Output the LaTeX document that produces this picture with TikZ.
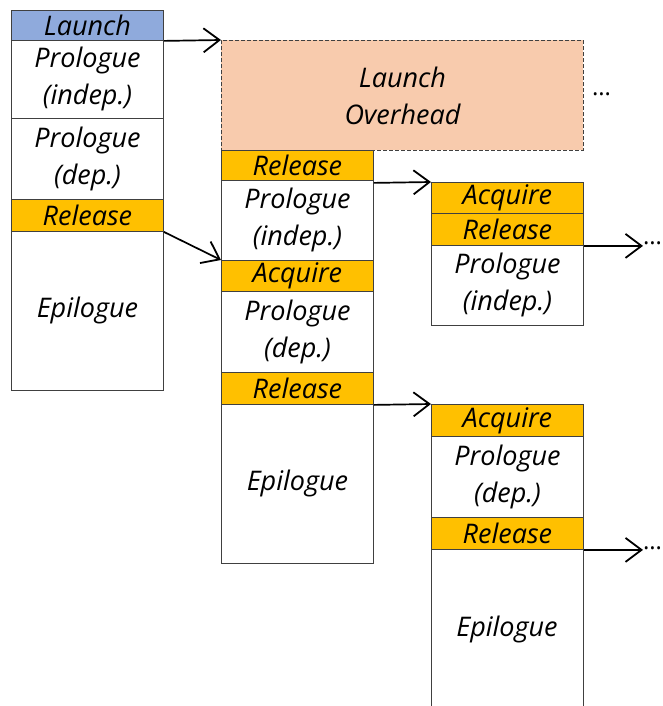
\documentclass[tikz,border=0pt]{standalone}
\usepackage{fontspec}
\setmainfont{Open Sans}
\usetikzlibrary{arrows.meta}
\definecolor{launchblue}{HTML}{8FAADC}
\definecolor{syncorange}{HTML}{FFC000}
\definecolor{overheadpeach}{HTML}{F8CBAD}
\definecolor{edgegray}{HTML}{404040}
\begin{document}
\begin{tikzpicture}[x=1pt,y=-1pt,
  font=\fontsize{27}{37}\selectfont\itshape,
  cell/.style={draw=edgegray, line width=0.9pt, fill=white, minimum width=152pt,
    inner sep=0pt, align=center, anchor=north west},
  sync/.style={cell, fill=syncorange},
  link/.style={line width=1.7pt, -{Straight Barb[length=16pt,width=24pt,line width=1.8pt]}},
  dots/.style={font=\fontsize{24}{24}\selectfont, inner sep=0pt, anchor=west}]
\clip (0,0) rectangle (662,706);
\fill[white] (0,0) rectangle (662,706);

% first column: launching kernel
\node[cell, fill=launchblue, minimum height=30pt] (a0) at (11,10) {Launch};
\node[cell, minimum height=78pt] (a1) at (11,40) {Prologue\\(indep.)};
\node[cell, minimum height=81pt] (a2) at (11,118) {Prologue\\(dep.)};
\node[sync, minimum height=32pt] (a3) at (11,199) {Release};
\node[cell, minimum height=159pt] (a4) at (11,231) {Epilogue};

% launch overhead
\node[draw=edgegray, dash pattern=on 4pt off 2pt, line width=0.9pt, fill=overheadpeach,
  minimum width=362pt, minimum height=110pt, inner sep=0pt, anchor=north west, align=center]
  (ov) at (221,40) {Launch\\Overhead};
\node[dots] (d0) at (592,94) {\dots};

% second column
\node[sync, minimum height=30pt] (b0) at (221,150) {Release};
\node[cell, minimum height=80pt] (b1) at (221,180) {Prologue\\(indep.)};
\node[sync, minimum height=31pt] (b2) at (221,260) {Acquire};
\node[cell, minimum height=81pt] (b3) at (221,291) {Prologue\\(dep.)};
\node[sync, minimum height=32pt] (b4) at (221,372) {Release};
\node[cell, minimum height=159pt] (b5) at (221,404) {Epilogue};

% third column, upper kernel
\node[sync, minimum height=31pt] (c0) at (431,182) {Acquire};
\node[sync, minimum height=32pt] (c1) at (431,213) {Release};
\node[cell, minimum height=80pt] (c2) at (431,245) {Prologue\\(indep.)};
\node[dots] (d1) at (643,243) {\dots};

% third column, lower kernel
\node[sync, minimum height=32pt] (e0) at (431,404) {Acquire};
\node[cell, minimum height=81pt] (e1) at (431,436) {Prologue\\(dep.)};
\node[sync, minimum height=32pt] (e2) at (431,517) {Release};
\node[cell, minimum height=160pt] (e3) at (431,549) {};
\node at (507,629) {Epilogue};
\node[dots] (d2) at (643,548) {\dots};

% dependencies
\draw[link] (a0.south east) -- (ov.north west);
\draw[link] (a3.south east) -- (b2.north west);
\draw[link] ([yshift=-2pt]b0.south east) -- (c0.north west);
\draw[link] (b4.south east) -- (e0.north west);
\draw[link] (c1.south east) -- (d1.west |- c1.south east);
\draw[link] (e2.south east) -- (d2.west |- e2.south east);
\end{tikzpicture}
\end{document}
